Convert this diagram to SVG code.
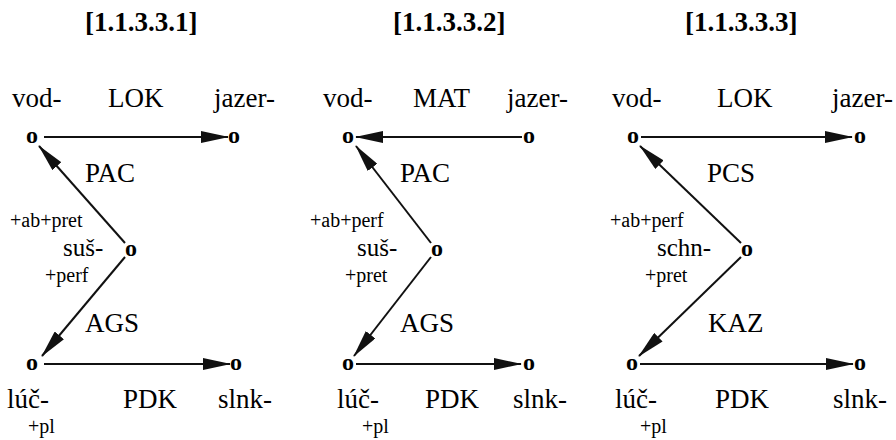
<svg xmlns="http://www.w3.org/2000/svg" width="896" height="440" viewBox="0 0 896 440">
<defs>
<marker id="ah" viewBox="0 0 28 12" markerWidth="28" markerHeight="12" refX="27" refY="6" orient="auto" markerUnits="userSpaceOnUse">
<path d="M0,0 L28,6 L0,12 z" fill="#111"/>
</marker>
</defs>
<rect width="896" height="440" fill="#fff"/>
<g id="titles">
<text x="85" y="31" font-size="27" font-family="Liberation Serif" font-weight="bold">[1.1.3.3.1]</text>
<text x="393" y="31" font-size="27" font-family="Liberation Serif" font-weight="bold">[1.1.3.3.2]</text>
<text x="685" y="31" font-size="27" font-family="Liberation Serif" font-weight="bold">[1.1.3.3.3]</text>
</g>
<g id="connectors" stroke="#111" stroke-width="2" fill="none">
<line x1="44" y1="137" x2="228" y2="137" marker-end="url(#ah)"/>
<line x1="125" y1="243" x2="39" y2="146" marker-end="url(#ah)"/>
<line x1="125" y1="257" x2="42" y2="356" marker-end="url(#ah)"/>
<line x1="44" y1="364" x2="230" y2="364" marker-end="url(#ah)"/>
<line x1="522" y1="137" x2="356" y2="137" marker-end="url(#ah)"/>
<line x1="431" y1="243" x2="356" y2="146" marker-end="url(#ah)"/>
<line x1="431" y1="257" x2="354" y2="356" marker-end="url(#ah)"/>
<line x1="356" y1="364" x2="521" y2="364" marker-end="url(#ah)"/>
<line x1="641" y1="137" x2="852" y2="137" marker-end="url(#ah)"/>
<line x1="741" y1="243" x2="640" y2="146" marker-end="url(#ah)"/>
<line x1="741" y1="257" x2="639" y2="356" marker-end="url(#ah)"/>
<line x1="640" y1="364" x2="853" y2="364" marker-end="url(#ah)"/>
</g>
<g id="edge-labels">
<text x="108" y="107" font-size="27" font-family="Liberation Serif">LOK</text>
<text x="85" y="182" font-size="27" font-family="Liberation Serif">PAC</text>
<text x="85" y="332" font-size="27" font-family="Liberation Serif">AGS</text>
<text x="123" y="408" font-size="27" font-family="Liberation Serif">PDK</text>
<text x="413" y="107" font-size="27" font-family="Liberation Serif">MAT</text>
<text x="400" y="182" font-size="27" font-family="Liberation Serif">PAC</text>
<text x="400" y="332" font-size="27" font-family="Liberation Serif">AGS</text>
<text x="425" y="408" font-size="27" font-family="Liberation Serif">PDK</text>
<text x="717" y="107" font-size="27" font-family="Liberation Serif">LOK</text>
<text x="707" y="182" font-size="27" font-family="Liberation Serif">PCS</text>
<text x="708" y="332" font-size="27" font-family="Liberation Serif">KAZ</text>
<text x="715" y="408" font-size="27" font-family="Liberation Serif">PDK</text>
</g>
<g id="p1-vod"><text x="26" y="143" font-size="24" font-family="Liberation Serif" font-weight="bold">o</text><text x="12" y="107" font-size="27" font-family="Liberation Serif">vod-</text></g>
<g id="p1-jazer"><text x="228" y="143" font-size="24" font-family="Liberation Serif" font-weight="bold">o</text><text x="214" y="107" font-size="27" font-family="Liberation Serif">jazer-</text></g>
<g id="p1-sus"><text x="125" y="256" font-size="24" font-family="Liberation Serif" font-weight="bold">o</text><text x="63" y="256" font-size="25" font-family="Liberation Serif">suš-</text><text x="10" y="227" font-size="20" font-family="Liberation Serif">+ab+pret</text><text x="45" y="282" font-size="20" font-family="Liberation Serif">+perf</text></g>
<g id="p1-luc"><text x="26" y="370" font-size="24" font-family="Liberation Serif" font-weight="bold">o</text><text x="7" y="408" font-size="27" font-family="Liberation Serif">lúč-</text><text x="28" y="433" font-size="20" font-family="Liberation Serif">+pl</text></g>
<g id="p1-slnk"><text x="230" y="370" font-size="24" font-family="Liberation Serif" font-weight="bold">o</text><text x="218" y="408" font-size="27" font-family="Liberation Serif">slnk-</text></g>
<g id="p2-vod"><text x="342" y="143" font-size="24" font-family="Liberation Serif" font-weight="bold">o</text><text x="323" y="107" font-size="27" font-family="Liberation Serif">vod-</text></g>
<g id="p2-jazer"><text x="523" y="143" font-size="24" font-family="Liberation Serif" font-weight="bold">o</text><text x="507" y="107" font-size="27" font-family="Liberation Serif">jazer-</text></g>
<g id="p2-sus"><text x="431" y="256" font-size="24" font-family="Liberation Serif" font-weight="bold">o</text><text x="357" y="256" font-size="25" font-family="Liberation Serif">suš-</text><text x="310" y="227" font-size="20" font-family="Liberation Serif">+ab+perf</text><text x="345" y="282" font-size="20" font-family="Liberation Serif">+pret</text></g>
<g id="p2-luc"><text x="342" y="370" font-size="24" font-family="Liberation Serif" font-weight="bold">o</text><text x="337" y="408" font-size="27" font-family="Liberation Serif">lúč-</text><text x="362" y="433" font-size="20" font-family="Liberation Serif">+pl</text></g>
<g id="p2-slnk"><text x="523" y="370" font-size="24" font-family="Liberation Serif" font-weight="bold">o</text><text x="513" y="408" font-size="27" font-family="Liberation Serif">slnk-</text></g>
<g id="p3-vod"><text x="627" y="143" font-size="24" font-family="Liberation Serif" font-weight="bold">o</text><text x="612" y="107" font-size="27" font-family="Liberation Serif">vod-</text></g>
<g id="p3-jazer"><text x="854" y="143" font-size="24" font-family="Liberation Serif" font-weight="bold">o</text><text x="832" y="107" font-size="27" font-family="Liberation Serif">jazer-</text></g>
<g id="p3-schn"><text x="741" y="256" font-size="24" font-family="Liberation Serif" font-weight="bold">o</text><text x="657" y="256" font-size="25" font-family="Liberation Serif">schn-</text><text x="610" y="227" font-size="20" font-family="Liberation Serif">+ab+perf</text><text x="645" y="282" font-size="20" font-family="Liberation Serif">+pret</text></g>
<g id="p3-luc"><text x="626" y="370" font-size="24" font-family="Liberation Serif" font-weight="bold">o</text><text x="615" y="408" font-size="27" font-family="Liberation Serif">lúč-</text><text x="640" y="433" font-size="20" font-family="Liberation Serif">+pl</text></g>
<g id="p3-slnk"><text x="854" y="370" font-size="24" font-family="Liberation Serif" font-weight="bold">o</text><text x="833" y="408" font-size="27" font-family="Liberation Serif">slnk-</text></g>
</svg>
